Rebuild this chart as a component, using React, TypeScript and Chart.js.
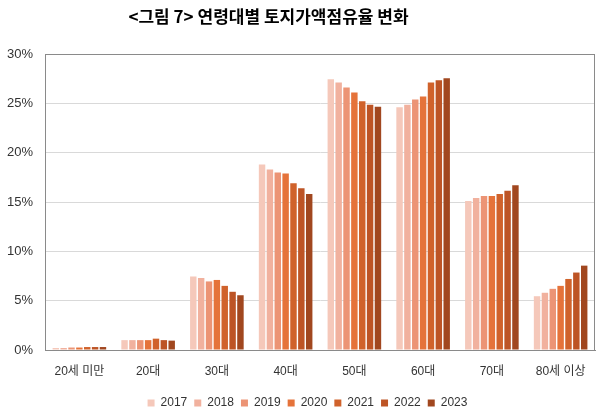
import React, { useEffect, useRef } from "react";
import { Chart, registerables } from "chart.js";

Chart.register(...registerables);

const titleText = "<그림 7> 연령대별 토지가액점유율 변화";
const categories = ["20세 미만", "20대", "30대", "40대", "50대", "60대", "70대", "80세 이상"];
const years = ["2017", "2018", "2019", "2020", "2021", "2022", "2023"];

const s2017 = [0.2, 1.0, 7.45, 18.8, 27.45, 24.6, 15.1, 5.45];
const s2018 = [0.2, 1.0, 7.3, 18.3, 27.1, 24.85, 15.4, 5.8];
const s2019 = [0.25, 1.0, 6.95, 18.0, 26.6, 25.4, 15.6, 6.2];
const s2020 = [0.25, 1.0, 7.1, 17.9, 26.1, 25.7, 15.6, 6.5];
const s2021 = [0.3, 1.15, 6.5, 16.9, 25.2, 27.1, 15.8, 7.2];
const s2022 = [0.3, 1.0, 5.9, 16.4, 24.85, 27.35, 16.15, 7.85];
const s2023 = [0.3, 0.95, 5.55, 15.8, 24.65, 27.55, 16.7, 8.55];

const seriesValues = [s2017, s2018, s2019, s2020, s2021, s2022, s2023];
const colors = ["#F5C8BA", "#F1B19E", "#EC9475", "#E5733A", "#D0622B", "#BD5425", "#A1471F"];
const yTicks = [0, 5, 10, 15, 20, 25, 30];

const framePlugin = {
  id: "frame",
  afterLayout(chart: any) {
    if (chart.legend) {
      chart.legend.left += 10;
      chart.legend.right += 10;
    }
  },
  afterDraw(chart: any) {
    const { ctx, chartArea } = chart;
    ctx.save();
    ctx.strokeStyle = "#8a8a8a";
    ctx.lineWidth = 1;
    ctx.strokeRect(
      Math.round(chartArea.left) + 0.5,
      Math.round(chartArea.top) + 0.5,
      Math.round(chartArea.right - chartArea.left) - 1,
      Math.round(chartArea.bottom - chartArea.top)
    );
    ctx.restore();
  },
};

export default function App() {
  const ref = useRef<HTMLCanvasElement | null>(null);

  useEffect(() => {
    if (!ref.current) return;
    const axisFont = "'Liberation Sans', Arial, sans-serif";
    const chart = new Chart(ref.current, {
      type: "bar",
      data: {
        labels: categories,
        datasets: years.map((y, i) => ({
          label: y,
          data: seriesValues[i],
          backgroundColor: colors[i],
          borderWidth: 0,
          barPercentage: 0.82,
          categoryPercentage: 0.8,
        })),
      },
      options: {
        animation: false,
        responsive: false,
        maintainAspectRatio: false,
        layout: { padding: { top: 54, right: 5, left: 0, bottom: -2 } },
        plugins: {
          title: { display: false },
          legend: {
            position: "bottom",
            labels: {
              boxWidth: 7,
              boxHeight: 7,
              padding: 7,
              color: "#333",
              font: { family: axisFont, size: 12 },
            },
          },
          tooltip: { enabled: false },
        },
        scales: {
          x: {
            grid: { display: false, drawTicks: false },
            border: { display: true, color: "#8a8a8a" },
            ticks: {
              color: "#333",
              padding: 14,
              font: { family: "'Liberation Sans', 'Noto Sans CJK KR', sans-serif", size: 12 },
            },
            afterFit(scale: any) {
              scale.height = 40;
            },
          },
          y: {
            min: 0,
            max: 30,
            afterBuildTicks(scale: any) {
              scale.ticks = yTicks.map((v) => ({ value: v }));
            },
            grid: { color: "#d9d9d9", drawTicks: false },
            border: { display: true, color: "#8a8a8a" },
            ticks: {
              color: "#333",
              padding: 12,
              font: { family: axisFont, size: 13 },
              callback: (v: any) => v + "%",
            },
            afterFit(scale: any) {
              scale.width = 45;
            },
          },
        },
      },
      plugins: [framePlugin],
    });
    return () => chart.destroy();
  }, []);

  return (
    <div style={{ position: "fixed", left: 0, top: 0, width: 600, height: 417, background: "#fff" }}>
      <div
        style={{
          position: "absolute",
          left: 128,
          top: 5,
          width: 281,
          textAlign: "center",
          whiteSpace: "nowrap",
          fontFamily: "'Noto Sans CJK KR', sans-serif",
          fontWeight: "bold",
          fontSize: 17,
          lineHeight: "22px",
          color: "#000",
        }}
      >
        {titleText}
      </div>
      <canvas ref={ref} width={600} height={417} style={{ display: "block" }} />
    </div>
  );
}
